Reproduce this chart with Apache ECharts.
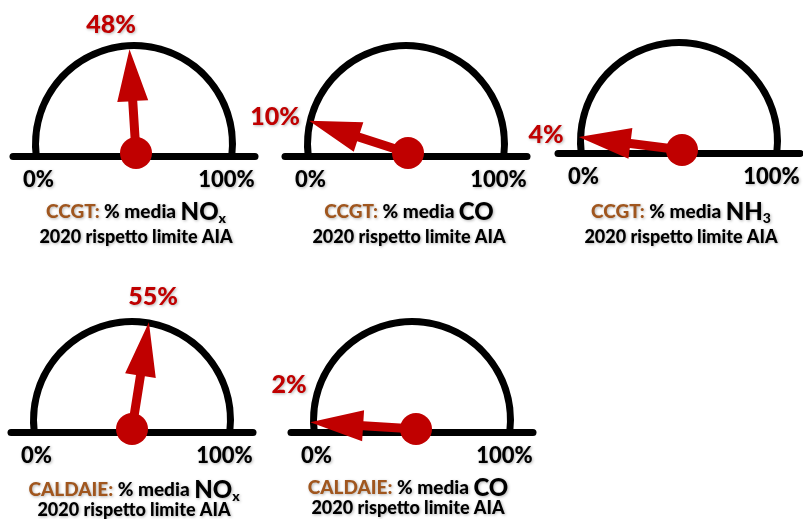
<!DOCTYPE html>
<html>
<head>
<meta charset="utf-8">
<script src="https://cdn.jsdelivr.net/npm/echarts@6/dist/echarts.min.js"></script>
<style>
  html, body { margin: 0; background: #fff; }
  #chart { width: 803px; height: 519px; }
</style>
</head>
<body>
<div id="chart"></div>
<script>
// data
const plants = ['CCGT', 'CCGT', 'CCGT', 'CALDAIE', 'CALDAIE']
const pollutants = ['NO', 'CO', 'NH', 'NO', 'CO']
const pollutantSubs = ['x', '', '3', 'x', '']
const values = [48, 10, 4, 55, 2]
const scaleTicks = [0, 100]
const subtitle = '2020 rispetto limite AIA'

// layout of each dial (px): arc centre x, baseline y, hub x, needle length,
// value label offset from hub, caption centre x and line y's
const layout = [
  { cx: 134, by: 156, hx: 136, len: 104, lab: [-25, -128], tx: 136, t1: 212, t2: 237 },
  { cx: 406, by: 156, hx: 408, len: 104, lab: [-133, -36], tx: 409, t1: 212, t2: 237 },
  { cx: 679, by: 153, hx: 682, len: 104, lab: [-136, -15], tx: 681, t1: 212, t2: 237 },
  { cx: 132, by: 432, hx: 132, len: 108, lab: [21, -132], tx: 134, t1: 490, t2: 510 },
  { cx: 412, by: 432, hx: 416, len: 106, lab: [-127, -44], tx: 408, t1: 488, t2: 508 },
]

const FONT = 'Lato, "Noto Sans", sans-serif'
const WEIGHT = 900
const RED = '#C00000'
const BROWN = '#A0561E'
const shadow = {
  textShadowColor: 'rgba(0,0,0,0.3)',
  textShadowBlur: 3,
  textShadowOffsetX: 1,
  textShadowOffsetY: 1,
}
const arrow = 'path://M11,100L11,50L0,50L15.5,0L31,50L20,50L20,100Z'

const chart = echarts.init(document.getElementById('chart'))

const grids = []
const xAxes = []
const yAxes = []
const series = []
const titles = []

const tickFont = { color: '#000', fontSize: 22, fontWeight: WEIGHT, fontFamily: FONT }

layout.forEach((p, i) => {
  // baseline with 0% / 100% labels
  grids.push({ left: p.cx - 121, width: 242, top: p.by - 20, height: 20 })
  xAxes.push({
    gridIndex: i,
    type: 'value',
    min: -12,
    max: 112,
    axisLine: { onZero: false, lineStyle: { color: '#000', width: 7 } },
    axisTick: { show: false },
    splitLine: { show: false },
    axisLabel: {
      customValues: scaleTicks,
      formatter: v => `{${v === scaleTicks[1] ? 'r' : 'l'}|${v}%}`,
      margin: 13,
      ...tickFont,
      ...shadow,
      rich: {
        l: { ...tickFont, padding: [0, 0, 0, 4] },
        r: { ...tickFont, padding: [0, 10, 0, 0] },
      },
    },
  })
  yAxes.push({ gridIndex: i, show: false, min: 0, max: 1 })

  // dial arc
  series.push({
    type: 'gauge',
    center: [p.cx, p.by - 12],
    radius: 102,
    startAngle: 187,
    endAngle: -7,
    axisLine: { lineStyle: { width: 7, color: [[1, '#000']] } },
    axisTick: { show: false },
    splitLine: { show: false },
    axisLabel: { show: false },
    pointer: { show: false },
    title: { show: false },
    detail: { show: false },
    data: [],
  })

  // needle + value
  series.push({
    type: 'gauge',
    center: [p.hx, p.by - 3],
    radius: p.len,
    startAngle: 180,
    endAngle: 0,
    min: 0,
    max: 100,
    axisLine: { show: false },
    axisTick: { show: false },
    splitLine: { show: false },
    axisLabel: { show: false },
    pointer: { icon: arrow, length: p.len, width: 31, itemStyle: { color: RED } },
    anchor: { show: true, showAbove: true, size: 32, icon: 'circle', itemStyle: { color: RED } },
    title: { show: false },
    detail: {
      offsetCenter: p.lab,
      formatter: '{value}%',
      color: RED,
      fontSize: 25,
      fontWeight: WEIGHT,
      fontFamily: FONT,
      ...shadow,
    },
    data: [{ value: values[i], name: plants[i] + ' ' + pollutants[i] + pollutantSubs[i] }],
  })

  // caption
  const rich = {
    b: { color: BROWN, fontSize: 19, fontWeight: WEIGHT, fontFamily: FONT, lineHeight: 26 },
    t: { color: '#000', fontSize: 19, fontWeight: WEIGHT, fontFamily: FONT, lineHeight: 26 },
    n: { color: '#000', fontSize: 24, fontWeight: WEIGHT, fontFamily: FONT, lineHeight: 26 },
    s: { color: '#000', fontSize: 14, fontWeight: WEIGHT, fontFamily: FONT, lineHeight: 15, verticalAlign: 'bottom' },
  }
  let line1 = `{b|${plants[i]}:}{t| % media }{n|${pollutants[i]}}`
  if (pollutantSubs[i]) line1 += `{s|${pollutantSubs[i]}}`
  titles.push({
    text: line1,
    left: p.tx,
    top: p.t1,
    textAlign: 'center',
    textVerticalAlign: 'middle',
    padding: 0,
    textStyle: { fontFamily: FONT, fontWeight: WEIGHT, fontSize: 19, rich, ...shadow },
  })
  titles.push({
    text: subtitle,
    left: p.tx,
    top: p.t2,
    textAlign: 'center',
    textVerticalAlign: 'middle',
    padding: 0,
    textStyle: { fontFamily: FONT, fontWeight: WEIGHT, fontSize: 18, color: '#000', ...shadow },
  })
})

chart.setOption({
  animation: false,
  backgroundColor: '#fff',
  title: titles,
  grid: grids,
  xAxis: xAxes,
  yAxis: yAxes,
  series,
})
</script>
</body>
</html>
